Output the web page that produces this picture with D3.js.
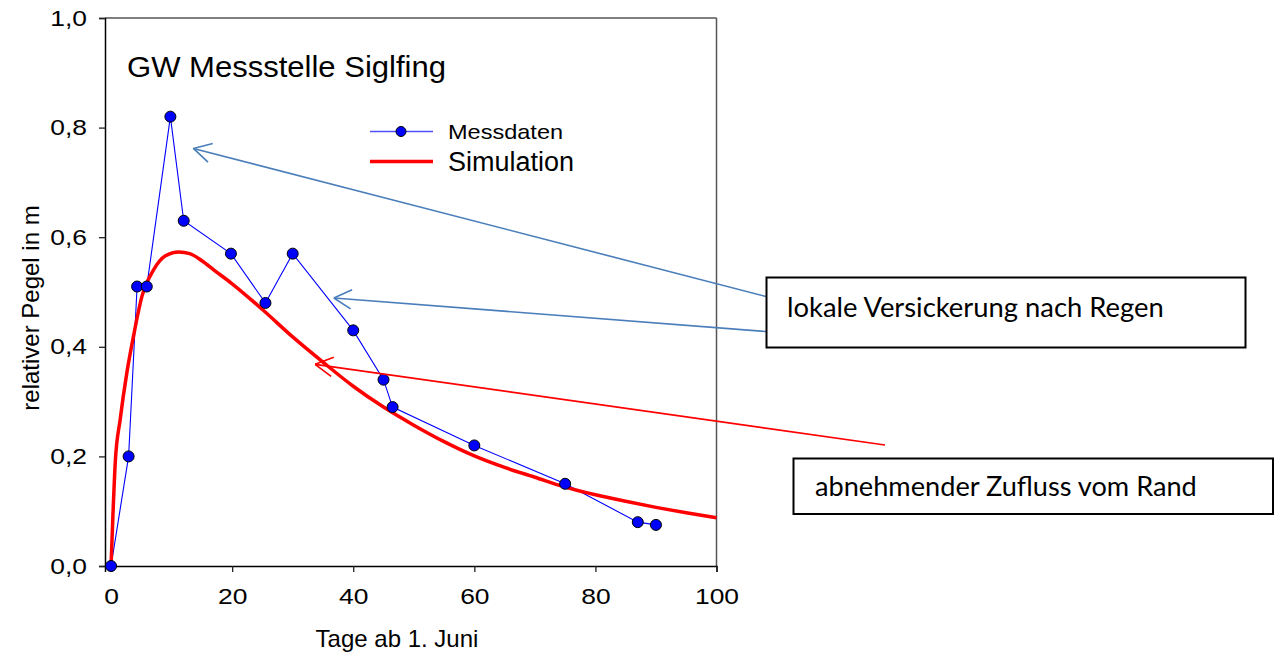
<!DOCTYPE html>
<html>
<head>
<meta charset="utf-8">
<script src="https://cdn.jsdelivr.net/npm/d3@7"></script>
<style>
  body { margin: 0; background: #fff; }
  svg { display: block; font-family: "Liberation Sans", Arial, sans-serif; }
</style>
</head>
<body>
<div id="chart"></div>
<script>
// Messdaten (Tage, relativer Pegel)
const messTage = [0, 2.9, 4.3, 5.9, 9.8, 12, 19.8, 25.5, 30, 40, 45, 46.5, 60, 75, 87, 90];
const messPegel = [0, 0.2, 0.51, 0.51, 0.82, 0.63, 0.57, 0.48, 0.57, 0.43, 0.34, 0.29, 0.22, 0.15, 0.08, 0.075];

// Simulation
const simTage = [0, 0.3, 0.7, 1.5, 2.6, 3.7, 5.1, 7, 9, 11.2, 13, 15, 17, 20, 25, 30, 35, 40, 45, 50, 55, 60, 65, 70, 75, 80, 85, 90, 95, 100];
const simPegel = [0, 0.09, 0.19, 0.267, 0.352, 0.419, 0.492, 0.54, 0.566, 0.573, 0.57, 0.557, 0.54, 0.515, 0.468, 0.418, 0.372, 0.328, 0.29, 0.257, 0.227, 0.201, 0.18, 0.162, 0.144, 0.13, 0.118, 0.107, 0.097, 0.088];

const xTicks = [0, 20, 40, 60, 80, 100];
const yTicks = [0, 0.2, 0.4, 0.6, 0.8, 1.0];

// annotation arrows: tip in data coords
const arrowTips = [
    { x: 13.6, y: 0.762, color: "#4a7ebb" },
    { x: 36.8, y: 0.489, color: "#4a7ebb" },
    { x: 33.7, y: 0.368, color: "#ff0000" }
];
const arrowTails = [[766, 296.5], [766, 331.5], [885, 445]];

const boxes = [
    { text: "lokale Versickerung nach Regen", x0: 766.5, y0: 277.5, x1: 1245.5, y1: 347.5, tx: 787, ty: 316.5, w: 377 },
    { text: "abnehmender Zufluss vom Rand", x0: 793.5, y0: 458.5, x1: 1273, y1: 514, tx: 815, ty: 495.5, w: 382 }
];

const width = 1276, height = 657;
const plotLeft = 105, plotRight = 716.5, plotTop = 18, plotBottom = 566;

const svg = d3.select("#chart")
    .append("svg")
    .attr("width", width)
    .attr("height", height);

const x = d3.scaleLinear().domain([-1, 100]).range([plotLeft, plotRight]);
const y = d3.scaleLinear().domain([0, 1]).range([plotBottom, plotTop]);

const de = d3.formatLocale({ decimal: ",", thousands: ".", grouping: [3], currency: ["", "€"] });
const fmt = de.format(".1f");

// stretch text horizontally (the original chart is a bit wider than tall)
function stretch(sel, f) {
    sel.each(function () {
        const w = this.getComputedTextLength();
        d3.select(this)
            .attr("textLength", w * f)
            .attr("lengthAdjust", "spacingAndGlyphs");
    });
}

// frame top / right
svg.append("line")
    .attr("x1", plotLeft).attr("x2", plotRight)
    .attr("y1", plotTop).attr("y2", plotTop)
    .attr("stroke", "#555").attr("stroke-width", 1.5);
svg.append("line")
    .attr("x1", plotRight).attr("x2", plotRight)
    .attr("y1", plotTop).attr("y2", plotBottom)
    .attr("stroke", "#555").attr("stroke-width", 1.5);

// axes
const yAxis = svg.append("g")
    .attr("transform", `translate(${plotLeft},0)`)
    .call(d3.axisLeft(y).tickValues(yTicks).tickFormat(fmt).tickSizeOuter(0).tickSize(6).tickPadding(12));
const xAxis = svg.append("g")
    .attr("transform", `translate(0,${plotBottom})`)
    .call(d3.axisBottom(x).tickValues(xTicks).tickSizeOuter(0).tickSize(6).tickPadding(16));

[yAxis, xAxis].forEach((g) => {
    g.selectAll("text")
        .attr("fill", "#000")
        .style("font-family", '"Liberation Sans", Arial, sans-serif')
        .style("font-size", "22px")
        .call(stretch, 1.2);
    g.selectAll("line").attr("stroke", "#222").attr("stroke-width", 1.3);
    g.select(".domain").attr("stroke", "#000").attr("stroke-width", 1.5);
});

// axis titles
svg.append("text")
    .attr("x", 397).attr("y", 647)
    .attr("text-anchor", "middle")
    .style("font-size", "24px")
    .text("Tage ab 1. Juni");
svg.append("text")
    .attr("transform", "translate(39,308) rotate(-90)")
    .attr("text-anchor", "middle")
    .style("font-size", "24px")
    .text("relativer Pegel in m");

// title
svg.append("text")
    .attr("x", 127).attr("y", 77)
    .style("font-size", "29px")
    .text("GW Messstelle Siglfing")
    .call(stretch, 1.07);

// Messdaten
const mess = messTage.map((t, i) => [t, messPegel[i]]);
svg.append("path")
    .datum(mess)
    .attr("fill", "none")
    .attr("stroke", "#0000ff")
    .attr("stroke-width", 1.1)
    .attr("d", d3.line().x((d) => x(d[0])).y((d) => y(d[1])));

// Simulation
const sim = simTage.map((t, i) => [t, simPegel[i]]);
svg.append("path")
    .datum(sim)
    .attr("fill", "none")
    .attr("stroke", "#ff0000")
    .attr("stroke-width", 3.5)
    .attr("stroke-linejoin", "round")
    .attr("d", d3.line().curve(d3.curveMonotoneX).x((d) => x(d[0])).y((d) => y(d[1])));

svg.append("g")
    .selectAll("circle")
    .data(mess)
    .join("circle")
    .attr("cx", (d) => x(d[0]))
    .attr("cy", (d) => y(d[1]))
    .attr("r", 5.5)
    .attr("fill", "#0000ff")
    .attr("stroke", "#000")
    .attr("stroke-width", 1);

// legend
const lg = svg.append("g");
lg.append("line")
    .attr("x1", 370).attr("x2", 433).attr("y1", 131.5).attr("y2", 131.5)
    .attr("stroke", "#4f4fff").attr("stroke-width", 1.3);
lg.append("circle")
    .attr("cx", 401).attr("cy", 131.5).attr("r", 5)
    .attr("fill", "#0000ff").attr("stroke", "#000").attr("stroke-width", 1);
lg.append("text")
    .attr("x", 448).attr("y", 139)
    .style("font-size", "21px")
    .text("Messdaten")
    .call(stretch, 1.12);
lg.append("line")
    .attr("x1", 370).attr("x2", 433).attr("y1", 161.5).attr("y2", 161.5)
    .attr("stroke", "#ff0000").attr("stroke-width", 3.5);
lg.append("text")
    .attr("x", 448).attr("y", 171)
    .style("font-size", "27px")
    .text("Simulation");

// arrows
arrowTips.forEach((a, i) => {
    const tx = x(a.x), ty = y(a.y);
    const [sx, sy] = arrowTails[i];
    const g = svg.append("g")
        .attr("stroke", a.color)
        .attr("stroke-width", 1.6)
        .attr("fill", "none");
    g.append("line")
        .attr("x1", sx).attr("y1", sy)
        .attr("x2", tx).attr("y2", ty);
    const ang = Math.atan2(sy - ty, sx - tx);
    const len = 20, spread = 0.5;
    [-spread, spread].forEach((s) => {
        g.append("line")
            .attr("x1", tx).attr("y1", ty)
            .attr("x2", tx + len * Math.cos(ang + s))
            .attr("y2", ty + len * Math.sin(ang + s));
    });
});

// text boxes
boxes.forEach((b) => {
    svg.append("rect")
        .attr("x", b.x0).attr("y", b.y0)
        .attr("width", b.x1 - b.x0).attr("height", b.y1 - b.y0)
        .attr("fill", "#fff")
        .attr("stroke", "#000")
        .attr("stroke-width", 2);
    const t = svg.append("text")
        .attr("x", b.tx).attr("y", b.ty)
        .style("font-family", "Lato, 'Open Sans', sans-serif")
        .style("font-size", "24px")
        .text(b.text);
    // fit the text width to the reference
    const w = t.node().getComputedTextLength();
    t.style("font-size", (24 * b.w / w).toFixed(2) + "px");
});
</script>
</body>
</html>
